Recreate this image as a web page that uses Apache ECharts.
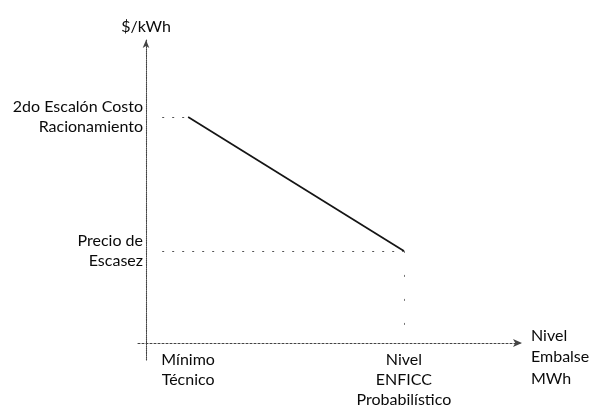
<!DOCTYPE html>
<html>
<head>
<meta charset="utf-8">
<script src="https://cdn.jsdelivr.net/npm/echarts@6/dist/echarts.min.js"></script>
<style>html,body{margin:0;padding:0;background:#fff}#c{width:590px;height:408px}</style>
</head>
<body>
<div id="c"></div>
<script>
// Conceptual curve: price vs reservoir level
var xCategories = ['Mínimo\nTécnico', 'Nivel\nENFICC\nProbabilístico'];
var xValues = [11.2, 68.6];
var yTickLabels = ['2do Escalón Costo\nRacionamiento', 'Precio de\nEscasez'];
var yValues = [74.6, 30.4];
var xAxisName = ['Nivel', 'Embalse', 'MWh'];
var yAxisName = '$/kWh';
var guideStartX = 4.3;

var chart = echarts.init(document.getElementById('c'));
var font = 'Lato';
var txt = '#0a0a0a';

function nearestIdx(arr, v) {
  var best = 0;
  for (var i = 1; i < arr.length; i++) if (Math.abs(arr[i] - v) < Math.abs(arr[best] - v)) best = i;
  return best;
}

chart.setOption({
  animation: false,
  backgroundColor: '#fff',
  grid: { left: 138, right: 68, top: 40, bottom: 48, containLabel: false, outerBoundsMode: 'none' },
  xAxis: {
    type: 'value', min: -2.13, max: 100,
    name: '{s| }\n' + xAxisName.map(function (t) { return '{t|' + t + '}'; }).join('\n'),
    nameLocation: 'end', nameGap: 9,
    nameTextStyle: {
      fontFamily: font, fontSize: 16, color: txt, align: 'left', verticalAlign: 'middle',
      rich: {
        s: { fontFamily: font, fontSize: 16, lineHeight: 28 },
        t: { fontFamily: font, fontSize: 16, color: txt, lineHeight: 21.5 }
      }
    },
    axisLine: { onZero: true, symbol: ['none', 'arrow'], symbolSize: [6, 9], lineStyle: { type: [2, 2], color: '#444', width: 1.1 } },
    axisTick: { show: false },
    splitLine: { show: false },
    axisLabel: {
      customValues: xValues,
      formatter: function (v) { return xCategories[nearestIdx(xValues, v)]; },
      fontFamily: font, fontSize: 16, color: txt, lineHeight: 20, margin: -10
    }
  },
  yAxis: {
    type: 'value', min: -5.6, max: 100,
    name: yAxisName, nameLocation: 'end', nameGap: 5,
    nameTextStyle: { fontFamily: font, fontSize: 16, color: txt, align: 'center' },
    axisLine: { onZero: true, symbol: ['none', 'arrow'], symbolSize: [5, 8], lineStyle: { type: 'dotted', color: '#444', width: 1.1 } },
    axisTick: { show: false },
    splitLine: { show: false },
    axisLabel: {
      customValues: yValues,
      formatter: function (v) { return yTickLabels[nearestIdx(yValues, v)]; },
      fontFamily: font, fontSize: 16, color: txt, lineHeight: 20.5, margin: -5
    }
  },
  series: [{
    type: 'line',
    data: xValues.map(function (x, i) { return [x, yValues[i]]; }),
    symbol: 'none',
    lineStyle: { color: '#151515', width: 1.7 },
    markLine: {
      silent: true, symbol: 'none', label: { show: false },
      lineStyle: { type: [2, 8], color: '#555', width: 1 },
      data: [
        [{ coord: [guideStartX, yValues[0]] }, { coord: [xValues[0], yValues[0]] }],
        [{ coord: [guideStartX, yValues[1]] }, { coord: [xValues[1], yValues[1]] }],
        [{ coord: [xValues[1], yValues[1]] }, { coord: [xValues[1], 0], lineStyle: { type: [2, 22], color: '#777' } }]
      ]
    }
  }]
});
</script>
</body>
</html>
